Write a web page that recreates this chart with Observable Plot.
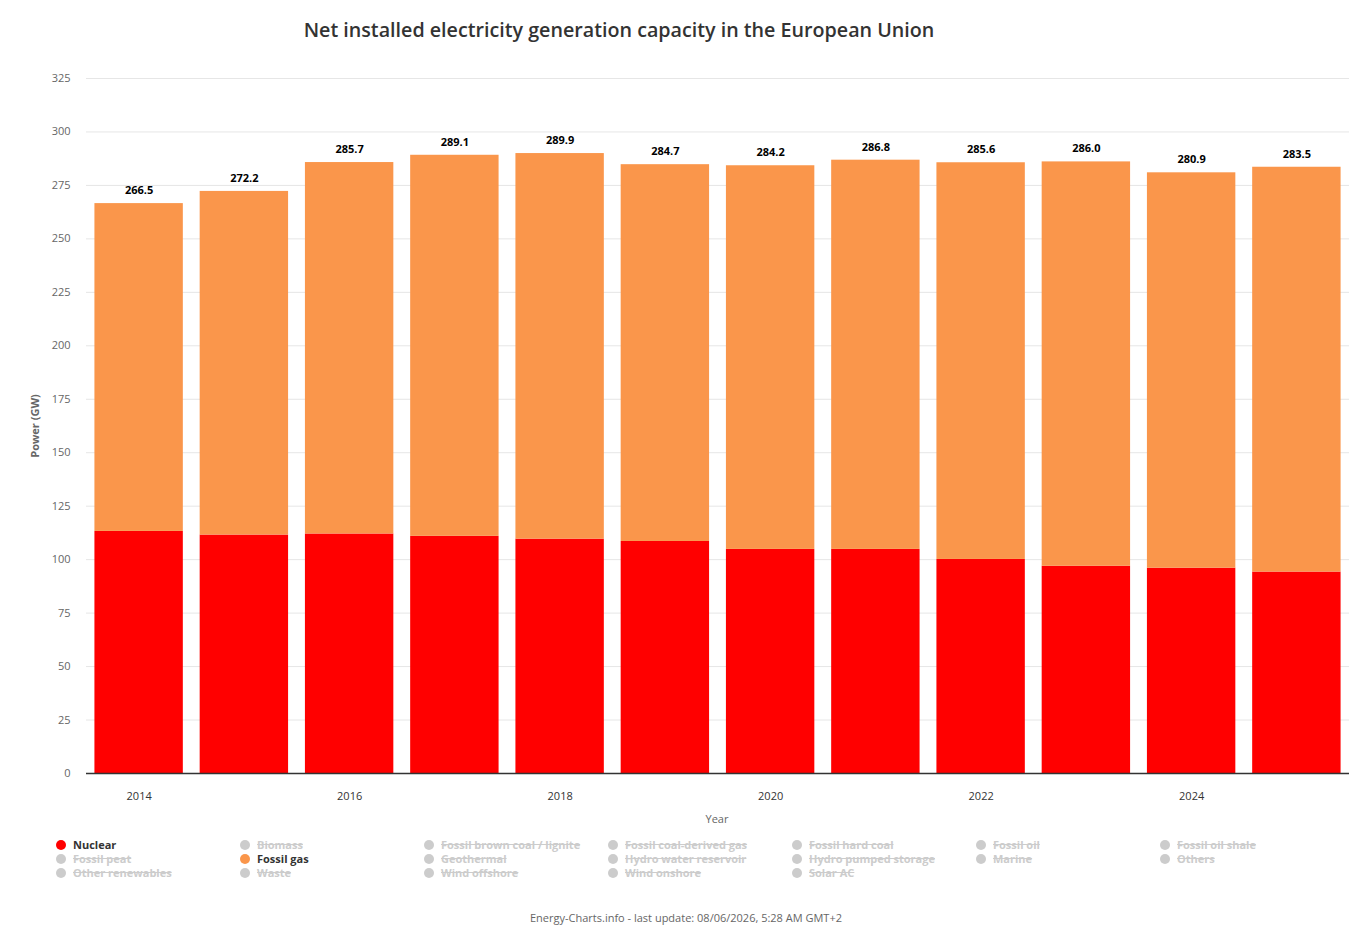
<!DOCTYPE html>
<html>
<head>
<meta charset="utf-8">
<script src="https://cdn.jsdelivr.net/npm/d3@7"></script>
<script src="https://cdn.jsdelivr.net/npm/@observablehq/plot@0.6"></script>
<style>
  html, body { margin: 0; padding: 0; background: #fff; }
  body { width: 1370px; height: 936px; position: relative; font-family: "Open Sans", "Noto Sans", sans-serif; overflow: hidden; }
  #title { position: absolute; top: 16px; left: 0; width: 1238px; text-align: center; font-size: 19.7px; font-weight: 600; color: #333; }
  #chart { position: absolute; top: 60px; left: 0; }
  #ylabel { position: absolute; left: 34px; top: 426px; transform: translate(-50%, -50%) rotate(-90deg); font-size: 11px; font-weight: bold; color: #666; white-space: nowrap; }
  #xlabel { position: absolute; left: 717px; top: 818px; transform: translate(-50%, -50%); font-size: 11px; color: #666; }
  #legend { position: absolute; top: 838px; left: 56px; width: 1300px; }
  .item { position: absolute; font-size: 11px; font-weight: bold; white-space: nowrap; line-height: 14px; }
  .dot { display: inline-block; width: 10px; height: 10px; border-radius: 50%; vertical-align: -1px; margin-right: 7px; }
  .off { color: #ccc; text-decoration: line-through; }
  .on { color: #333; }
  #caption { position: absolute; top: 910px; left: 0; width: 1372px; text-align: center; font-size: 11px; color: #666; }
</style>
</head>
<body>
<div id="title">Net installed electricity generation capacity in the European Union</div>
<div id="chart"></div>
<div id="ylabel">Power (GW)</div>
<div id="xlabel">Year</div>
<div id="legend"></div>
<div id="caption">Energy-Charts.info - last update: 08/06/2026, 5:28 AM GMT+2</div>
<script>
const years = [2014, 2015, 2016, 2017, 2018, 2019, 2020, 2021, 2022, 2023, 2024, 2025];
const nuclear = [113.2, 111.5, 112.0, 110.9, 109.6, 108.5, 104.8, 104.8, 100.1, 96.9, 96.0, 94.2];
const fossilGas = [153.3, 160.7, 173.7, 178.2, 180.3, 176.2, 179.4, 182.0, 185.5, 189.1, 184.9, 189.3];
const sources = ["Nuclear", "Fossil gas"];
const colors = ["#ff0000", "#fa964b"];
const yTicks = [0, 25, 50, 75, 100, 125, 150, 175, 200, 225, 250, 275, 300, 325];
const xTicks = [2014, 2016, 2018, 2020, 2022, 2024];
const legendItems = [
  ["Nuclear", true, "#ff0000"], ["Biomass", false], ["Fossil brown coal / lignite", false], ["Fossil coal-derived gas", false], ["Fossil hard coal", false], ["Fossil oil", false], ["Fossil oil shale", false],
  ["Fossil peat", false], ["Fossil gas", true, "#fa964b"], ["Geothermal", false], ["Hydro water reservoir", false], ["Hydro pumped storage", false], ["Marine", false], ["Others", false],
  ["Other renewables", false], ["Waste", false], ["Wind offshore", false], ["Wind onshore", false], ["Solar AC", false]
];

const rows = [];
years.forEach((y, i) => {
  rows.push({year: y, source: "Nuclear", value: nuclear[i]});
  rows.push({year: y, source: "Fossil gas", value: fossilGas[i]});
});
const totals = years.map((y, i) => ({year: y, total: nuclear[i] + fossilGas[i]}));

const chart = Plot.plot({
  width: 1370,
  height: 780,
  marginLeft: 86,
  marginRight: 21,
  marginTop: 18,
  marginBottom: 67,
  style: {fontFamily: '"Open Sans", "Noto Sans", sans-serif', fontSize: "11px", background: "#fff"},
  x: {type: "band", domain: years, paddingInner: 0.16, paddingOuter: 0.08, round: false, label: null},
  y: {domain: [0, 325], label: null},
  color: {domain: sources, range: colors},
  marks: [
    Plot.gridY(yTicks, {stroke: "#e6e6e6", strokeOpacity: 1}),
    Plot.barY(rows, Plot.stackY({x: "year", y: "value", fill: "source", order: sources})),
    Plot.ruleY([0], {stroke: "#333", strokeWidth: 1.5}),
    Plot.text(totals, {x: "year", y: "total", text: d => d.total.toFixed(1), dy: -13, fontWeight: "bold", fill: "#000", fontSize: 11}),
    Plot.axisY(yTicks, {tickSize: 0, tickPadding: 16, fill: "#666", label: null, fontSize: 11}),
    Plot.axisX(xTicks, {tickSize: 0, tickPadding: 19, fill: "#333", label: null, fontSize: 11, tickFormat: d => String(d), style: {letterSpacing: "0.8px"}})
  ]
});
document.getElementById("chart").appendChild(chart);

const legend = document.getElementById("legend");
legendItems.forEach(([name, on, color], i) => {
  const col = i % 7, row = Math.floor(i / 7);
  const div = document.createElement("div");
  div.className = "item " + (on ? "on" : "off");
  div.style.left = (col * 184) + "px";
  div.style.top = (row * 14) + "px";
  const dot = document.createElement("span");
  dot.className = "dot";
  dot.style.background = on ? color : "#ccc";
  div.appendChild(dot);
  div.appendChild(document.createTextNode(name));
  legend.appendChild(div);
});
</script>
</body>
</html>
